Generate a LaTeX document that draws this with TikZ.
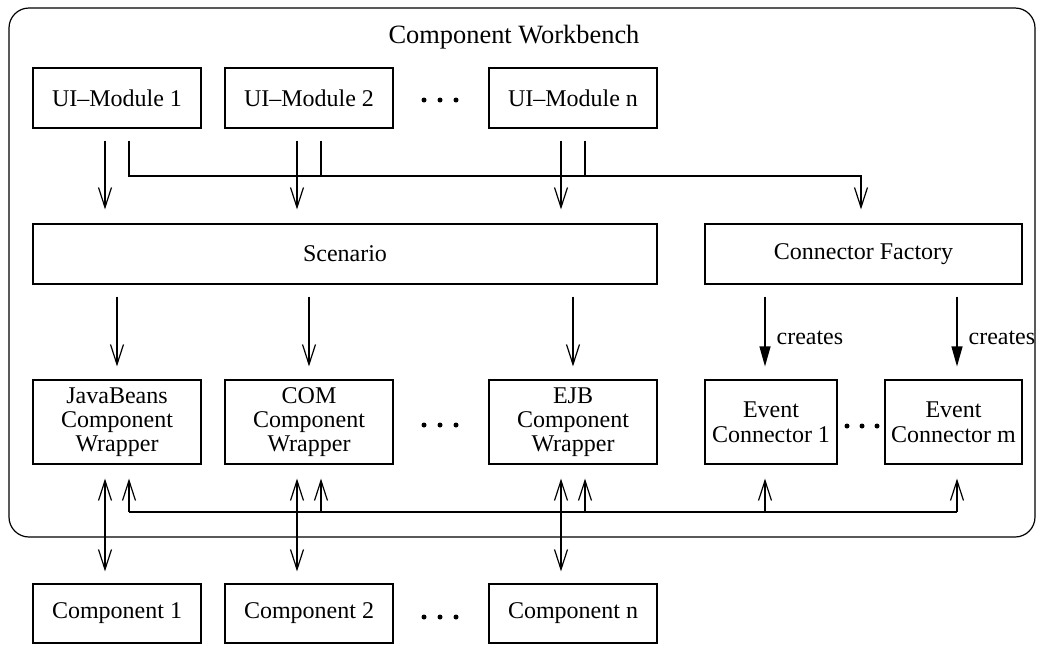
\documentclass[tikz,border=0pt]{standalone}
\usepackage{fontspec}
\setmainfont{Liberation Serif}
\usetikzlibrary{arrows.meta}

\begin{document}
\begin{tikzpicture}[x=0.5pt,y=-0.5pt,
  lw/.style={line width=0.6pt},
  box/.style={draw, lw, inner sep=0pt, align=center,
    font=\fontsize{12}{12}\selectfont},
  smallbox/.style={box, minimum width=84pt, minimum height=30pt},
  wrapbox/.style={box, minimum width=84pt, minimum height=42pt},
  evbox/.style={box, minimum height=42pt, font=\fontsize{12}{12.5}\selectfont},
  arr/.style={lw, -{Straight Barb[length=10pt,width=6.5pt]}},
  bidir/.style={lw, {Straight Barb[length=10pt,width=6.5pt]}-{Straight Barb[length=10pt,width=6.5pt]}},
  creates/.style={lw, -{Triangle[length=10pt,width=5.5pt]}},
  plain/.style={lw},
  lbl/.style={anchor=west, inner sep=0pt, xshift=5.5pt,
    font=\fontsize{12}{12}\selectfont}]

\useasboundingbox (0,0) rectangle (1038,644);

% workbench frame and title
\draw[lw, rounded corners=10pt] (9,8) rectangle (1035,537);
\node[font=\fontsize{13.2}{14}\selectfont] (title) at (514,37) {Component Workbench};

% UI modules
\node[smallbox] (ui1) at (117,98) {UI–Module 1};
\node[smallbox] (ui2) at (309,98) {UI–Module 2};
\node[smallbox] (uin) at (573,98) {UI–Module n};

% scenario and connector factory
\node[box, minimum width=312pt, minimum height=30pt] (scen) at (345,254) {Scenario};
\node[box, minimum width=158.5pt, minimum height=30pt] (cf) at (863.5,254) {Connector Factory};

% component wrappers
\node[wrapbox] (jb) at (117,422) {JavaBeans\\Component\\Wrapper};
\node[wrapbox] (com) at (309,422) {COM\\Component\\Wrapper};
\node[wrapbox] (ejb) at (573,422) {EJB\\Component\\Wrapper};

% event connectors
\node[evbox, minimum width=66pt] (ec1) at (771,422) {Event\\Connector 1};
\node[evbox, minimum width=68.5pt] (ecm) at (953.5,422) {Event\\Connector m};

% components outside the workbench
\node[box, minimum width=84pt, minimum height=29.5pt] (c1) at (117,613.5) {Component 1};
\node[box, minimum width=84pt, minimum height=29.5pt] (c2) at (309,613.5) {Component 2};
\node[box, minimum width=84pt, minimum height=29.5pt] (cn) at (573,613.5) {Component n};

% ellipses
\foreach \cx/\cy/\d in {440/100/16, 440/425/16, 440/617/16, 862/426/15}{
  \foreach \k in {-1,0,1}{
    \fill ({\cx+\k*\d},\cy) circle[radius=1.25pt];
  }
}

% UI modules -> scenario
\foreach \u in {ui1,ui2,uin}{
  \draw[arr, shorten <=6pt, shorten >=7pt]
    ([xshift=-6pt]\u.south) -- ([xshift=-6pt]\u.south |- scen.north);
}

% UI modules -> connector factory
\coordinate (bt) at (861,176);
\draw[arr, shorten >=7pt] ([shift={(12,12)}]ui1.south) |- (bt) -- (bt |- cf.north);
\draw[plain] ([shift={(12,12)}]ui2.south) -- ([xshift=6pt]ui2.south |- bt);
\draw[plain] ([shift={(12,12)}]uin.south) -- ([xshift=6pt]uin.south |- bt);

% scenario -> wrappers
\foreach \w in {jb,com,ejb}{
  \draw[arr, shorten <=6pt, shorten >=6.5pt] (\w.north |- scen.south) -- (\w.north);
}

% connector factory creates event connectors
\draw[creates, shorten <=6pt, shorten >=6.5pt]
  ([xshift=-3pt]ec1.north |- cf.south) -- node[lbl, pos=0.56] {creates} ([xshift=-3pt]ec1.north);
\draw[creates, shorten <=6pt, shorten >=6.5pt]
  ([xshift=1.75pt]ecm.north |- cf.south) -- node[lbl, pos=0.56] {creates} ([xshift=1.75pt]ecm.north);

% wrappers <-> components
\foreach \w/\c in {jb/c1,com/c2,ejb/cn}{
  \draw[bidir, shorten <=7pt, shorten >=6pt]
    ([xshift=-6pt]\w.south) -- ([xshift=-6pt]\w.south |- \c.north);
}

% event bus back to wrappers and connectors
\coordinate (bl) at (129,512);
\coordinate (br) at (957,512);
\draw[plain] (bl) -- (br);
\draw[arr, shorten >=7pt] (bl) -- (bl |- jb.south);
\draw[arr, shorten >=7pt] ([xshift=6pt]com.south |- bl) -- ([xshift=6pt]com.south);
\draw[arr, shorten >=7pt] ([xshift=6pt]ejb.south |- bl) -- ([xshift=6pt]ejb.south);
\draw[arr, shorten >=7pt] ([xshift=-3pt]ec1.south |- bl) -- ([xshift=-3pt]ec1.south);
\draw[arr, shorten >=7pt] (br) -- (br |- ecm.south);

\end{tikzpicture}
\end{document}
